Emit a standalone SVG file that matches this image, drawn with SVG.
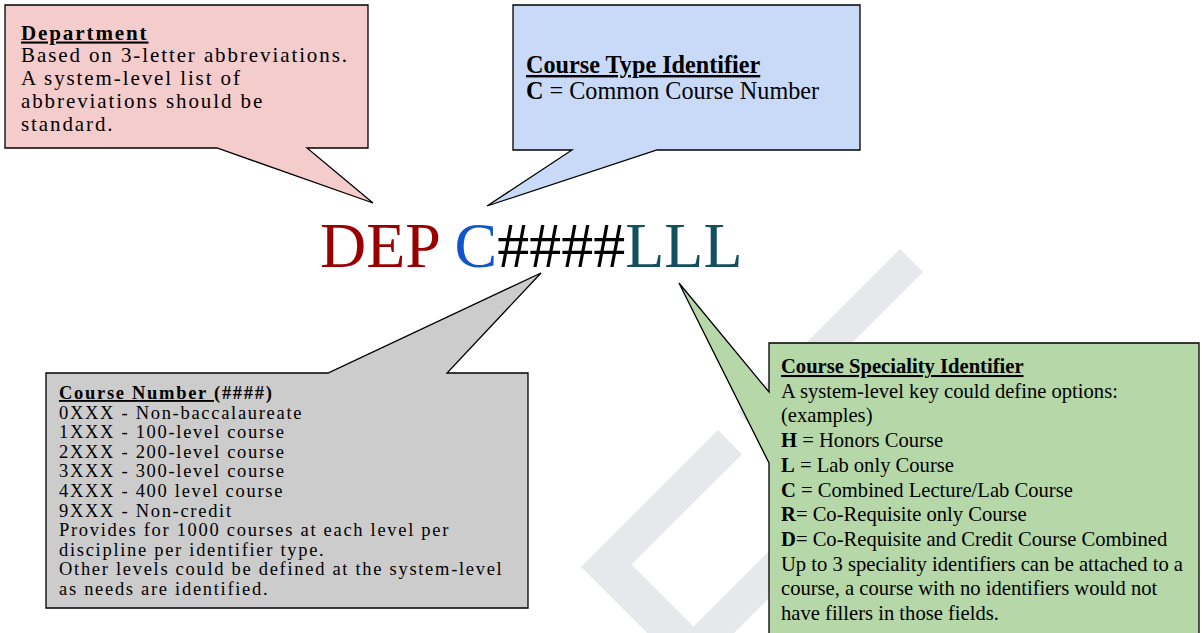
<svg xmlns="http://www.w3.org/2000/svg" width="1202" height="633" viewBox="0 0 1202 633">
<style>
.bubble{stroke:#000;stroke-width:1.3;stroke-linejoin:miter}
.serif{font-family:"Liberation Serif","Times New Roman",serif;fill:#000}
.b{font-weight:bold}
.u{text-decoration:underline}
.pink{font-size:21px;letter-spacing:1.9px}
.blue{font-size:24.2px}
.gray{font-size:18.5px;letter-spacing:1.7px}
.green{font-size:20.6px}
.wm{fill:#e7e8eb}
</style>
<rect width="1202" height="633" fill="#ffffff"/>
<g id="watermark">
<polygon class="wm" points="900,249 923,272 760,435 737,412"/>
<polygon class="wm" points="718,430 581,567 647,633 734,633 800,567 800,520 693.5,626.5 631.5,564.5 742,454.5"/>
</g>
<g id="code">
<text x="320" y="267" class="serif" font-size="64"><tspan fill="#990000">DEP </tspan><tspan fill="#1155cc">C</tspan><tspan fill="#000000">####</tspan><tspan fill="#134f5c">LLL</tspan></text>
</g>
<g id="department">
<path class="bubble" fill="#f4cccc" d="M5,5 H368 V148 H307 L373,203 L217,148 H5 Z"/>
<text class="serif pink" x="21">
<tspan x="21" y="39.5" class="b u">Department</tspan>
<tspan x="21" y="62.3">Based on 3-letter abbreviations.</tspan>
<tspan x="21" y="85">A system-level list of</tspan>
<tspan x="21" y="107.8">abbreviations should be</tspan>
<tspan x="21" y="130.5">standard.</tspan>
</text>
</g>
<g id="course-type">
<path class="bubble" fill="#c9daf8" d="M513,5 H860 V150 H657 L487,206 L572,150 H513 Z"/>
<text class="serif blue">
<tspan x="526" y="73" class="b u">Course Type Identifier</tspan>
<tspan x="526" y="99"><tspan class="b">C</tspan> = Common Course Number</tspan>
</text>
</g>
<g id="course-number">
<path class="bubble" fill="#cccccc" d="M46,373 H328 L541,273 L447,373 H528 V608 H46 Z"/>
<text class="serif gray">
<tspan x="59" y="399" class="b"><tspan class="u">Course Number </tspan>(####)</tspan>
<tspan x="59" y="418.6">0XXX - Non-baccalaureate</tspan>
<tspan x="59" y="438.2">1XXX - 100-level course</tspan>
<tspan x="59" y="457.8">2XXX - 200-level course</tspan>
<tspan x="59" y="477.4">3XXX - 300-level course</tspan>
<tspan x="59" y="497">4XXX - 400 level course</tspan>
<tspan x="59" y="516.6">9XXX - Non-credit</tspan>
<tspan x="59" y="536.2">Provides for 1000 courses at each level per</tspan>
<tspan x="59" y="555.8">discipline per identifier type.</tspan>
<tspan x="59" y="575.4">Other levels could be defined at the system-level</tspan>
<tspan x="59" y="595">as needs are identified.</tspan>
</text>
</g>
<g id="course-speciality">
<path class="bubble" fill="#b6d7a8" d="M769,343 H1199 V645 H769 V463 L679,283 L769,392 Z"/>
<text class="serif green">
<tspan x="781" y="373" class="b u">Course Speciality Identifier</tspan>
<tspan x="781" y="397.7">A system-level key could define options:</tspan>
<tspan x="781" y="422.4">(examples)</tspan>
<tspan x="781" y="447.1"><tspan class="b">H</tspan> = Honors Course</tspan>
<tspan x="781" y="471.8"><tspan class="b">L</tspan> = Lab only Course</tspan>
<tspan x="781" y="496.5"><tspan class="b">C</tspan> = Combined Lecture/Lab Course</tspan>
<tspan x="781" y="521.2"><tspan class="b">R</tspan>= Co-Requisite only Course</tspan>
<tspan x="781" y="545.9"><tspan class="b">D</tspan>= Co-Requisite and Credit Course Combined</tspan>
<tspan x="781" y="570.6">Up to 3 speciality identifiers can be attached to a</tspan>
<tspan x="781" y="595.3">course, a course with no identifiers would not</tspan>
<tspan x="781" y="620">have fillers in those fields.</tspan>
</text>
</g>
</svg>
